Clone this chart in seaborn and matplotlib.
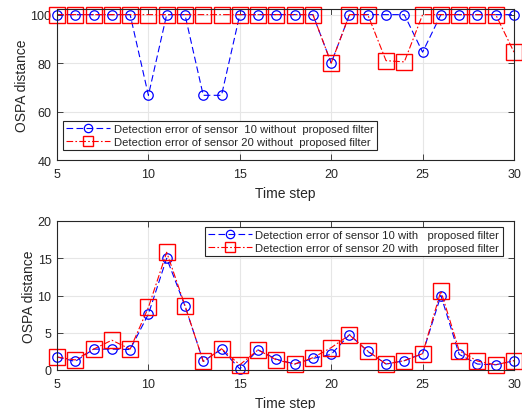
import numpy as np
import pandas as pd
import matplotlib
matplotlib.use("Agg")
import matplotlib.pyplot as plt
import seaborn as sns

time_steps = list(range(5, 31))

top_sensor10 = [100, 100, 100, 100, 100, 66.7, 100, 100, 66.7, 66.7, 100, 100, 100,
                100, 100, 80, 100, 100, 100, 100, 84.5, 100, 100, 100, 100, 100]
top_sensor20 = [100, 100, 100, 100, 100, 100, 100, 100, 100, 100, 100, 100, 100,
                100, 100, 80, 100, 100, 81, 80.5, 100, 100, 100, 100, 100, 84.5]

bot_sensor10 = [1.75, 1.15, 2.8, 2.8, 2.75, 7.5, 15.0, 8.6, 1.15, 2.8, 0.15, 2.7, 1.45,
                0.8, 1.55, 2.1, 4.75, 2.5, 0.8, 1.25, 2.2, 10.0, 2.1, 0.8, 0.7, 1.25]
bot_sensor20 = [1.75, 1.35, 2.8, 4.0, 2.8, 8.4, 15.8, 8.65, 1.15, 2.85, 0.7, 2.7, 1.35,
                0.8, 1.65, 3.0, 4.7, 2.55, 0.8, 1.25, 2.2, 10.6, 2.6, 1.2, 0.7, 1.25]

top_labels = ["Detection error of sensor  10 without  proposed filter",
              "Detection error of sensor 20 without  proposed filter"]
bot_labels = ["Detection error of sensor 10 with   proposed filter",
              "Detection error of sensor 20 with   proposed filter"]

sns.set_style("white")
plt.rcParams['font.family'] = ['Liberation Sans', 'DejaVu Sans']

fig = plt.figure(figsize=(5.22, 4.10), dpi=100)
ax1 = fig.add_axes([57/522, (410-161)/410, 457/522, 150.7/410])
ax2 = fig.add_axes([57/522, (410-371)/410, 457/522, 149/410])

spine_c = '#262626'

def style(ax, yticks, ylim):
    ax.set_xlim(5, 30)
    ax.set_ylim(*ylim)
    ax.set_xticks([5, 10, 15, 20, 25, 30])
    ax.set_yticks(yticks)
    ax.grid(True, color='#e6e6e6', linewidth=0.8)
    ax.set_axisbelow(True)
    for s in ax.spines.values():
        s.set_color(spine_c)
        s.set_linewidth(0.8)
        s.set_visible(True)
    ax.tick_params(direction='in', length=4, width=0.6, color=spine_c,
                   top=True, right=True, bottom=True, left=True,
                   labelsize=9, labelcolor='#262626')
    ax.tick_params(axis='x', pad=6)
    ax.tick_params(axis='y', pad=4)
    ax.set_xlabel("Time step", fontsize=10, color='#262626', labelpad=4)
    ax.set_ylabel("OSPA distance", fontsize=10, color='#262626', labelpad=1)

def draw(ax, s10, s20, labels):
    df = pd.DataFrame({"t": time_steps, "a": s10, "b": s20})
    sns.lineplot(data=df, x="t", y="a", ax=ax, color='blue', linestyle=(0, (6, 3)),
                 linewidth=0.8, marker='o', markersize=6.8, markerfacecolor='none',
                 markeredgecolor='blue', markeredgewidth=0.9, label=labels[0],
                 clip_on=False)
    sns.lineplot(data=df, x="t", y="b", ax=ax, color='red', linestyle=(0, (6, 2, 1.5, 2)),
                 linewidth=0.8, marker='s', markersize=11, markerfacecolor='none',
                 markeredgecolor='red', markeredgewidth=1.0, label=labels[1],
                 clip_on=False)

draw(ax1, top_sensor10, top_sensor20, top_labels)
draw(ax2, bot_sensor10, bot_sensor20, bot_labels)
style(ax1, [40, 60, 80, 100], (40, 102.2))
style(ax2, [0, 5, 10, 15, 20], (0, 20))

for ax, loc, anchor in ((ax1, 'lower left', (6/457, 10/150.7)),
                        (ax2, 'upper right', (1 - 11.3/457, 1 - 6/149))):
    leg = ax.legend(loc=loc, bbox_to_anchor=anchor, fontsize=8.1, frameon=True,
                    fancybox=False, edgecolor=spine_c, framealpha=1, borderpad=0.3,
                    labelspacing=0.2, handlelength=3.9, handletextpad=0.3,
                    borderaxespad=0.0)
    leg.get_frame().set_linewidth(0.8)
    leg.set_zorder(10)
    handles = leg.legend_handles
    handles[0].set_markersize(6)
    handles[1].set_markersize(7)

fig.savefig("out.png", dpi=100)
